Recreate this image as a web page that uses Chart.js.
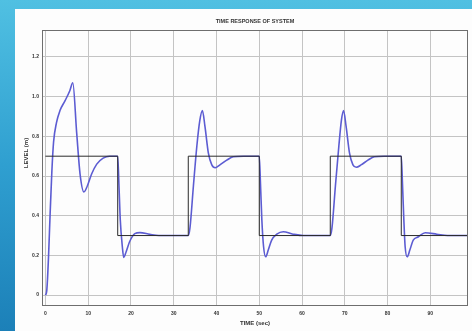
<!DOCTYPE html>
<html>
<head>
<meta charset="utf-8">
<script src="https://cdn.jsdelivr.net/npm/chart.js@4.4.1/dist/chart.umd.min.js"></script>
<style>
  html, body { margin: 0; padding: 0; }
  body {
    width: 472px; height: 331px; overflow: hidden; position: relative;
    background: linear-gradient(to bottom, #50c0e2 0%, #2f9fd0 50%, #1c80b8 100%);
  }
  #panel { position: absolute; left: 15px; top: 9px; right: 0; bottom: 0; background: #fdfdfd; }
  #chart { position: absolute; left: 0; top: 0; }
</style>
</head>
<body>
<div id="panel"></div>
<canvas id="chart" width="472" height="331"></canvas>
<script>
// reference (set point) square wave
const refTime = [0, 16.9, 33.4, 50.0, 66.6, 83.2, 98.8];
const refLevel = [0.7, 0.3, 0.7, 0.3, 0.7, 0.3, 0.3];

// system response
const respTime = [
  0, 0.3, 0.7, 1.1, 1.5, 1.9, 2.6, 3.4, 4.6, 5.7, 6.4, 7.3, 8.1, 9.0, 9.8, 10.8, 12.0, 13.5, 15.0,
  16.9, 17.2, 17.5, 18.0, 18.3, 18.9, 19.7, 20.9, 22.1, 24.4, 26.5,
  33.4, 33.8, 34.6, 35.4, 36.1, 36.7, 37.3, 38.1, 38.9, 39.7, 40.8, 42.4, 43.9, 46.3,
  50.0, 50.3, 50.6, 51.0, 51.5, 52.1, 52.9, 54.1, 55.6, 57.9, 60.3,
  66.6, 67.0, 67.8, 68.6, 69.2, 69.7, 70.3, 71.1, 71.9, 72.7, 73.8, 75.4, 76.9, 79.2,
  83.2, 83.5, 83.8, 84.1, 84.6, 85.2, 86.0, 87.2, 88.8, 91.5, 94.0, 98.8
];
const respLevel = [
  0, 0.02, 0.18, 0.41, 0.62, 0.77, 0.87, 0.93, 0.98, 1.03, 1.07, 0.82, 0.61, 0.52, 0.55, 0.61, 0.66, 0.69, 0.70,
  0.70, 0.55, 0.38, 0.24, 0.19, 0.22, 0.27, 0.31, 0.315, 0.306, 0.30,
  0.30, 0.34, 0.55, 0.75, 0.88, 0.93, 0.85, 0.715, 0.656, 0.642, 0.656, 0.68, 0.697, 0.70,
  0.70, 0.55, 0.38, 0.245, 0.193, 0.227, 0.277, 0.307, 0.319, 0.307, 0.30,
  0.30, 0.34, 0.55, 0.75, 0.88, 0.93, 0.85, 0.715, 0.656, 0.644, 0.656, 0.68, 0.697, 0.70,
  0.70, 0.55, 0.38, 0.245, 0.193, 0.227, 0.277, 0.294, 0.314, 0.307, 0.30, 0.30
];

const xTicks = [0, 10, 20, 30, 40, 50, 60, 70, 80, 90];
const yTicks = [0, 0.2, 0.4, 0.6, 0.8, 1, 1.2];

const titleText = 'TIME RESPONSE OF SYSTEM';
const xLabel = 'TIME (sec)';
const yLabel = 'LEVEL (m)';

const toPoints = (xs, ys) => xs.map((x, i) => ({ x: x, y: ys[i] }));

const labelFont = { family: 'Liberation Sans', size: 5, weight: 'bold' };

const frame = {
  id: 'frame',
  afterDraw(chart) {
    const { ctx, chartArea } = chart;
    ctx.save();
    ctx.strokeStyle = '#6e6e6e';
    ctx.lineWidth = 1;
    ctx.strokeRect(chartArea.left + 0.5, chartArea.top + 0.5,
      chartArea.right - chartArea.left - 1, chartArea.bottom - chartArea.top - 1);

    ctx.fillStyle = '#333';
    ctx.textAlign = 'center';
    ctx.textBaseline = 'middle';
    ctx.font = 'bold 5.5px "Liberation Sans"';
    ctx.fillText(titleText, 255, 21);
    ctx.font = 'bold 6px "Liberation Sans"';
    ctx.fillText(xLabel, 255, 323);
    ctx.translate(26, 153);
    ctx.rotate(-Math.PI / 2);
    ctx.fillText(yLabel, 0, 0);
    ctx.restore();
  }
};

new Chart(document.getElementById('chart').getContext('2d'), {
  type: 'line',
  data: {
    datasets: [
      {
        label: 'reference',
        data: toPoints(refTime, refLevel),
        stepped: true,
        borderColor: '#2a2a2a',
        borderWidth: 1,
        pointRadius: 0
      },
      {
        label: 'response',
        data: toPoints(respTime, respLevel),
        cubicInterpolationMode: 'monotone',
        borderColor: '#5c5cd2',
        borderWidth: 1.6,
        pointRadius: 0
      }
    ]
  },
  options: {
    responsive: false,
    animation: false,
    events: [],
    layout: { padding: { top: 30, right: 4, left: 0, bottom: 0 } },
    plugins: { legend: { display: false }, title: { display: false }, tooltip: { enabled: false } },
    scales: {
      x: {
        type: 'linear',
        min: -0.8,
        max: 98.8,
        afterFit: s => { s.height = 25; },
        afterBuildTicks: s => { s.ticks = xTicks.map(v => ({ value: v })); },
        grid: { color: '#c4c4c4', lineWidth: 1, drawTicks: false },
        border: { display: false },
        ticks: { font: labelFont, color: '#333', padding: 5, maxRotation: 0 }
      },
      y: {
        min: -0.055,
        max: 1.336,
        afterFit: s => { s.width = 42; },
        afterBuildTicks: s => { s.ticks = yTicks.map(v => ({ value: v })); },
        grid: { color: '#c4c4c4', lineWidth: 1, drawTicks: false },
        border: { display: false },
        ticks: { font: labelFont, color: '#333', padding: 3 }
      }
    }
  },
  plugins: [frame]
});
</script>
</body>
</html>
